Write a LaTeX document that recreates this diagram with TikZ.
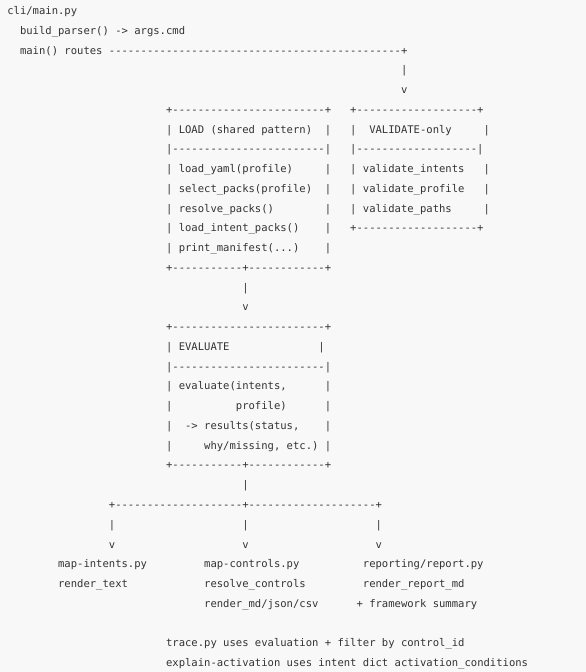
\documentclass[tikz,border=0pt]{standalone}
\usepackage{fontspec}
\setmonofont{DejaVu Sans Mono}[Ligatures=TeXOff]
\definecolor{bg}{RGB}{248,248,248}
\definecolor{ink}{RGB}{51,51,51}
\newcommand\dashrep[1]{\ifnum#1>0\relax-\expandafter\dashrep\expandafter{\the\numexpr#1-1\relax}\fi}
\newcommand\putt[4]{\node[txt] (#1) at ({7.3pt+#2*6.35pt},{-14.5pt-#3*19.76pt}) {#4};}
\begin{document}
\begin{tikzpicture}[txt/.style={anchor=base west, inner sep=0pt, outer sep=0pt, font=\ttfamily\fontsize{10.55}{12}\selectfont, text=ink}]
\fill[bg] (0,0) rectangle (586pt,-672pt);
\useasboundingbox (0,0) rectangle (586pt,-672pt);
% header
\putt{cli}{0}{0}{cli/main.py}
\putt{bp}{2}{1}{build\_parser() -> args.cmd}
\putt{mr}{2}{2}{main() routes}
\putt{mrline}{16}{2}{\dashrep{46}+}
\putt{a1}{62}{3}{|}
\putt{a1v}{62}{4}{v}
% LOAD box
\putt{ldtop}{25}{5}{+\dashrep{24}+}
\putt{ldl6}{25}{6}{|}\putt{ldt}{27}{6}{LOAD (shared pattern)}\putt{ldr6}{50}{6}{|}
\putt{ldsep}{25}{7}{|\dashrep{24}|}
\putt{ldl8}{25}{8}{|}\putt{ld1}{27}{8}{load\_yaml(profile)}\putt{ldr8}{50}{8}{|}
\putt{ldl9}{25}{9}{|}\putt{ld2}{27}{9}{select\_packs(profile)}\putt{ldr9}{50}{9}{|}
\putt{ldl10}{25}{10}{|}\putt{ld3}{27}{10}{resolve\_packs()}\putt{ldr10}{50}{10}{|}
\putt{ldl11}{25}{11}{|}\putt{ld4}{27}{11}{load\_intent\_packs()}\putt{ldr11}{50}{11}{|}
\putt{ldl12}{25}{12}{|}\putt{ld5}{27}{12}{print\_manifest(...)}\putt{ldr12}{50}{12}{|}
\putt{ldbot}{25}{13}{+\dashrep{11}+\dashrep{12}+}
% VALIDATE box
\putt{vdtop}{54}{5}{+\dashrep{19}+}
\putt{vdl6}{54}{6}{|}\putt{vdt}{57}{6}{VALIDATE-only}\putt{vdr6}{75}{6}{|}
\putt{vdsep}{54}{7}{|\dashrep{19}|}
\putt{vdl8}{54}{8}{|}\putt{vd1}{56}{8}{validate\_intents}\putt{vdr8}{75}{8}{|}
\putt{vdl9}{54}{9}{|}\putt{vd2}{56}{9}{validate\_profile}\putt{vdr9}{75}{9}{|}
\putt{vdl10}{54}{10}{|}\putt{vd3}{56}{10}{validate\_paths}\putt{vdr10}{75}{10}{|}
\putt{vdbot}{54}{11}{+\dashrep{19}+}
% arrow to EVALUATE
\putt{a2}{37}{14}{|}
\putt{a2v}{37}{15}{v}
% EVALUATE box
\putt{evtop}{25}{16}{+\dashrep{24}+}
\putt{evl17}{25}{17}{|}\putt{evt}{27}{17}{EVALUATE}\putt{evr17}{49}{17}{|}
\putt{evsep}{25}{18}{|\dashrep{24}|}
\putt{evl19}{25}{19}{|}\putt{ev1}{27}{19}{evaluate(intents,}\putt{evr19}{50}{19}{|}
\putt{evl20}{25}{20}{|}\putt{ev2}{36}{20}{profile)}\putt{evr20}{50}{20}{|}
\putt{evl21}{25}{21}{|}\putt{ev3}{28}{21}{-> results(status,}\putt{evr21}{50}{21}{|}
\putt{evl22}{25}{22}{|}\putt{ev4}{31}{22}{why/missing, etc.)}\putt{evr22}{50}{22}{|}
\putt{evbot}{25}{23}{+\dashrep{11}+\dashrep{12}+}
% fan-out
\putt{a3}{37}{24}{|}
\putt{fan}{16}{25}{+\dashrep{20}+\dashrep{20}+}
\putt{fl}{16}{26}{|}\putt{fm}{37}{26}{|}\putt{fr}{58}{26}{|}
\putt{flv}{16}{27}{v}\putt{fmv}{37}{27}{v}\putt{frv}{58}{27}{v}
% targets
\putt{mi}{8}{28}{map-intents.py}
\putt{mi2}{8}{29}{render\_text}
\putt{mc}{31}{28}{map-controls.py}
\putt{mc2}{31}{29}{resolve\_controls}
\putt{mc3}{31}{30}{render\_md/json/csv}
\putt{rp}{56}{28}{reporting/report.py}
\putt{rp2}{56}{29}{render\_report\_md}
\putt{rp3}{55}{30}{+ framework summary}
% notes
\putt{n1}{25}{32}{trace.py uses evaluation + filter by control\_id}
\putt{n2}{25}{33}{explain-activation uses intent dict activation\_conditions}
\end{tikzpicture}
\end{document}
